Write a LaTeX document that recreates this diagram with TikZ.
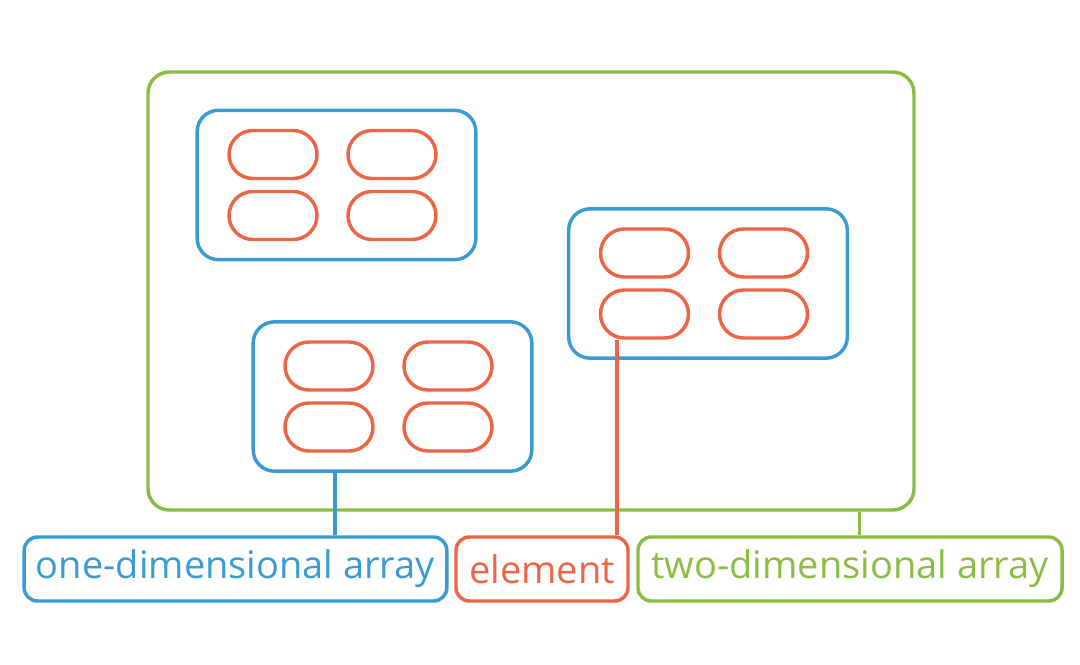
\documentclass[tikz,border=0pt]{standalone}
\usepackage{fontspec}
\setmainfont{Open Sans}
\definecolor{arrBlue}{HTML}{3A9BD3}
\definecolor{arrRed}{HTML}{EC6546}
\definecolor{arrGreen}{HTML}{8BBD45}
\tikzset{
  arr outer/.style={draw=arrGreen, line width=2.6pt, rounded corners=16pt, minimum width=574.5pt, minimum height=328.5pt, inner sep=0pt},
  arr row/.style={draw=arrBlue, line width=2.6pt, rounded corners=16pt, minimum width=209pt, minimum height=112pt, inner sep=0pt},
  arr elem/.style={draw=arrRed, line width=2.6pt, rounded corners=18pt, minimum width=66pt, minimum height=36pt, inner sep=0pt},
  arr tag/.style={line width=2.6pt, rounded corners=10pt, minimum height=48pt, inner sep=0pt, font=\fontsize{28.5pt}{32pt}\selectfont},
  arr link/.style={line width=2.6pt},
}
\begin{document}
\begin{tikzpicture}[x=0.75pt, y=-0.75pt]
  \useasboundingbox (0,0) rectangle (1080,664);

  % two-dimensional array
  \node[arr outer] (outer) at (531,291) {};

  % three one-dimensional arrays, four elements each
  \foreach \name/\cx/\cy in {rowA/336.5/185, rowB/708/283.5, rowC/392.5/396.5} {
    \node[arr row] (\name) at (\cx,\cy) {};
    \foreach \i in {0,1} {
      \foreach \j in {0,1} {
        \node[arr elem] (\name-\j\i) at (\cx-63.5+\i*119, \cy-30.5+\j*61) {};
      }
    }
  }

  % labels
  \node[arr tag, draw=arrBlue, text=arrBlue, minimum width=317pt] (oneTag) at (235.5,569) {one-dimensional array};
  \node[arr tag, draw=arrRed, text=arrRed, minimum width=129pt] (elemTag) at (542,569) {element};
  \node[arr tag, draw=arrGreen, text=arrGreen, minimum width=318pt] (twoTag) at (850,569) {two-dimensional array};

  % connectors
  \draw[arr link, draw=arrBlue] ([xshift=-43pt]rowC.south) -- ([xshift=-43pt]rowC.south |- oneTag.north);
  \draw[arr link, draw=arrRed] ([xshift=13.5pt]rowB-10.south west) -- ([xshift=13.5pt]rowB-10.south west |- elemTag.north);
  \draw[arr link, draw=arrGreen] ([xshift=-42pt]outer.south east) -- ([xshift=-42pt]outer.south east |- twoTag.north);
\end{tikzpicture}
\end{document}
